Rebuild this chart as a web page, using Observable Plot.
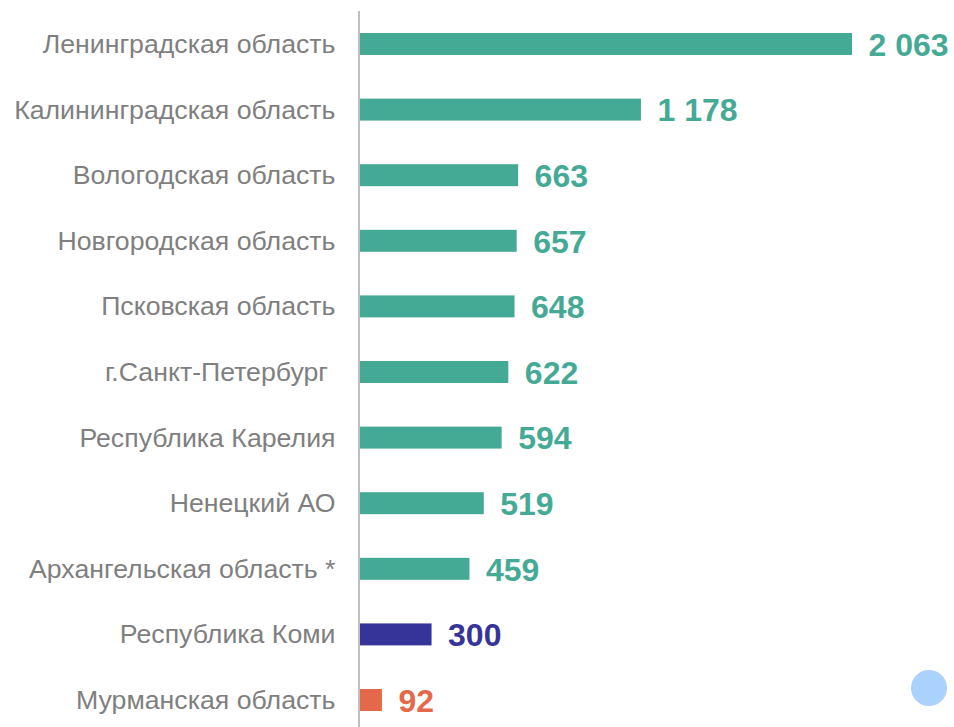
<!DOCTYPE html>
<html>
<head>
<meta charset="utf-8">
<script src="https://cdn.jsdelivr.net/npm/d3@7"></script>
<script src="https://cdn.jsdelivr.net/npm/@observablehq/plot@0.6"></script>
<style>
  html, body { margin: 0; padding: 0; background: #fff; }
  #wrap { position: relative; width: 954px; height: 727px; overflow: hidden; }
  #dot { position: absolute; left: 911px; top: 670px; width: 36px; height: 36px; border-radius: 50%; background: #AAD2FD; }
  svg text { white-space: pre; }
</style>
</head>
<body>
<div id="wrap"><div id="dot"></div></div>
<script>
const regions = [
  "Ленинградская область",
  "Калининградская область",
  "Вологодская область",
  "Новгородская область",
  "Псковская область",
  "г.Санкт-Петербург ",
  "Республика Карелия",
  "Ненецкий АО",
  "Архангельская область *",
  "Республика Коми",
  "Мурманская область"
];
const values = [2063, 1178, 663, 657, 648, 622, 594, 519, 459, 300, 92];
const groups = ["other","other","other","other","other","other","other","other","other","komi","murmansk"];

const groupColors = { other: "#45AA95", komi: "#363498", murmansk: "#E4694A" };

const data = regions.map((r, i) => ({ region: r, value: values[i], group: groups[i] }));
const fmt = d3.formatLocale({ decimal: ",", thousands: " ", grouping: [3], currency: ["", ""] }).format(",d");

const chart = Plot.plot({
  width: 954,
  height: 727,
  marginLeft: 360,
  marginRight: 102,
  marginTop: 11,
  marginBottom: 0,
  style: { fontFamily: "Liberation Sans, Arial, sans-serif", background: "#fff" },
  x: { domain: [0, 2063], axis: null },
  y: { domain: regions, range: [33, 711], paddingInner: 0.665, paddingOuter: 0, round: false, label: null },
  color: { domain: Object.keys(groupColors), range: Object.values(groupColors) },
  marks: [
    Plot.barX(data, { y: "region", x: "value", fill: "group" }),
    Plot.ruleX([0], { stroke: "#BFBFBF", strokeWidth: 2, dx: -1.5 }),
    Plot.axisY({ tickSize: 0, tickPadding: 25, fontSize: 26.7, fill: "#7F7F7F", label: null }),
    Plot.text(data, { y: "region", x: "value", text: d => fmt(d.value), fill: "group", textAnchor: "start", dx: 16, dy: 1, fontSize: 32, fontWeight: "bold" })
  ]
});
document.getElementById("wrap").prepend(chart);
</script>
</body>
</html>
